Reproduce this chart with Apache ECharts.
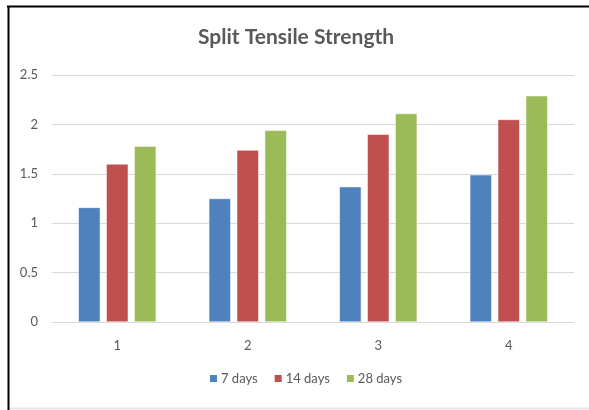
<!DOCTYPE html>
<html><head><meta charset="utf-8">
<script src="https://cdn.jsdelivr.net/npm/echarts@6/dist/echarts.min.js"></script>
<style>html,body{margin:0;padding:0;background:#fff}#c{width:589px;height:410px}</style>
</head><body><div id="c"></div>
<script>
const categories = ['1', '2', '3', '4'];
const seriesNames = ['7 days', '14 days', '28 days'];
const days7 = [1.16, 1.25, 1.37, 1.49];
const days14 = [1.60, 1.74, 1.90, 2.05];
const days28 = [1.78, 1.94, 2.11, 2.29];
const yTicks = [0, 0.5, 1, 1.5, 2, 2.5];
const colors = ['#4f81bd', '#c0504d', '#9bbb59'];
const font = 'Lato, "Open Sans", sans-serif';
const chart = echarts.init(document.getElementById('c'), null, {renderer: 'canvas'});
const values = [days7, days14, days28];
chart.setOption({
  animation: false,
  title: {text: 'Split Tensile Strength', left: 198, top: 27, padding: 0,
    textStyle: {fontFamily: font, fontSize: 21, fontWeight: 'bold', color: '#595959'}},
  legend: {bottom: 20, left: 203, itemWidth: 9, itemHeight: 9, itemGap: 15,
    icon: 'rect', data: seriesNames,
    textStyle: {fontFamily: font, fontSize: 13, color: '#595959', padding: [0, 0, 0, -2]}},
  grid: {left: 52, right: 15, top: 75, bottom: 88},
  xAxis: {type: 'category', data: categories,
    axisLine: {lineStyle: {color: '#d9d9d9'}}, axisTick: {show: false},
    axisLabel: {fontFamily: font, fontSize: 13, color: '#595959', margin: 17}},
  yAxis: {type: 'value', min: yTicks[0], max: yTicks[yTicks.length - 1], interval: 0.5,
    axisLine: {show: false}, axisTick: {show: false},
    splitLine: {lineStyle: {color: '#d9d9d9'}},
    axisLabel: {fontFamily: font, fontSize: 13, color: '#595959', margin: 14}},
  series: seriesNames.map((n, i) => ({
    name: n, type: 'bar', data: values[i], barWidth: 22, barGap: '27%',
    itemStyle: {color: colors[i], borderColor: '#fff', borderWidth: 0.5}
  })),
  graphic: [
    {type: 'line', shape: {x1: 7, y1: 6.5, x2: 589, y2: 6.5}, style: {stroke: '#000', lineWidth: 2}},
    {type: 'line', shape: {x1: 8.5, y1: 6, x2: 8.5, y2: 410}, style: {stroke: '#000', lineWidth: 2}},
    {type: 'line', shape: {x1: 10, y1: 408.5, x2: 589, y2: 408.5}, style: {stroke: '#e6e6e6', lineWidth: 2}}
  ]
});
</script></body></html>
